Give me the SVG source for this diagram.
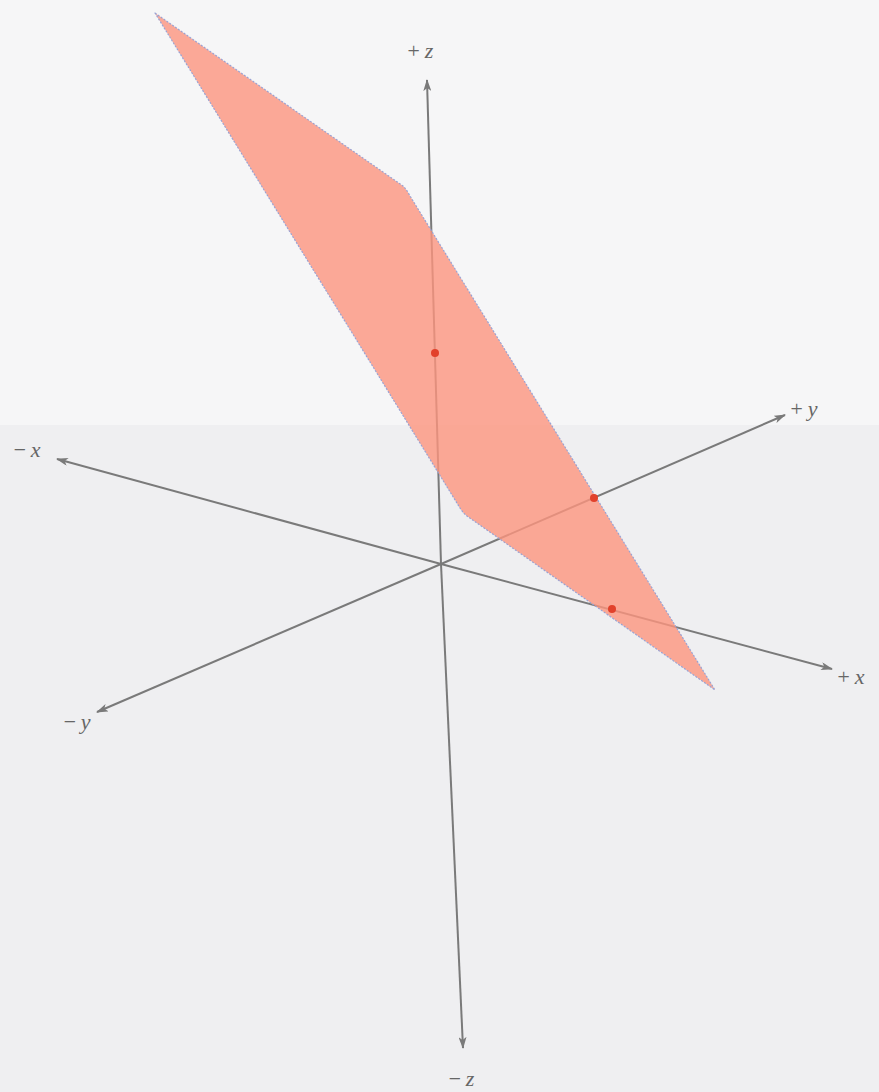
<svg xmlns="http://www.w3.org/2000/svg" width="879" height="1092" viewBox="0 0 879 1092">
<style>
.axis{stroke:#7a7a7a;stroke-width:2;fill:none;marker-end:url(#ah)}
.lbl{font-family:"Liberation Serif","Times New Roman",serif;font-style:italic;font-size:22px;fill:#666666}
.pt{fill:#e2412b}
</style>
<defs>
<marker id="ah" viewBox="0 0 12 8" refX="11" refY="4" markerWidth="12" markerHeight="8" markerUnits="userSpaceOnUse" orient="auto">
<path d="M0,0 L12,4 L0,8 L3,4 Z" fill="#7a7a7a"/>
</marker>
</defs>
<rect id="bg-top" x="0" y="0" width="879" height="425" fill="#f6f6f7"/>
<rect id="bg-bottom" x="0" y="425" width="879" height="667" fill="#efeff1"/>
<g id="axes">
<line class="axis" x1="441" y1="564" x2="427" y2="80"/>
<line class="axis" x1="441" y1="564" x2="463" y2="1048"/>
<line class="axis" x1="441" y1="564" x2="57" y2="459"/>
<line class="axis" x1="441" y1="564" x2="832" y2="669"/>
<line class="axis" x1="441" y1="564" x2="785" y2="415"/>
<line class="axis" x1="441" y1="564" x2="97" y2="712"/>
</g>
<g id="plane">
<path d="M155,13 L403,186 Q407,190 410,196 L715,690 L467,516 Q463,513 460,508 Z" fill="#fc957e" fill-opacity="0.8" stroke="#9aa3d4" stroke-width="1.2" stroke-dasharray="2 1.5" stroke-linejoin="round"/>
</g>
<g id="points">
<circle class="pt" cx="435" cy="353" r="4"/>
<circle class="pt" cx="594" cy="498" r="4"/>
<circle class="pt" cx="612" cy="609" r="4"/>
</g>
<g id="labels">
<text class="lbl" x="406" y="58">+<tspan dx="4">z</tspan></text>
<text class="lbl" x="789" y="416">+<tspan dx="4">y</tspan></text>
<text class="lbl" x="12" y="457">−<tspan dx="4">x</tspan></text>
<text class="lbl" x="836" y="684">+<tspan dx="4">x</tspan></text>
<text class="lbl" x="62" y="729">−<tspan dx="4">y</tspan></text>
<text class="lbl" x="447" y="1086">−<tspan dx="4">z</tspan></text>
</g>
</svg>
